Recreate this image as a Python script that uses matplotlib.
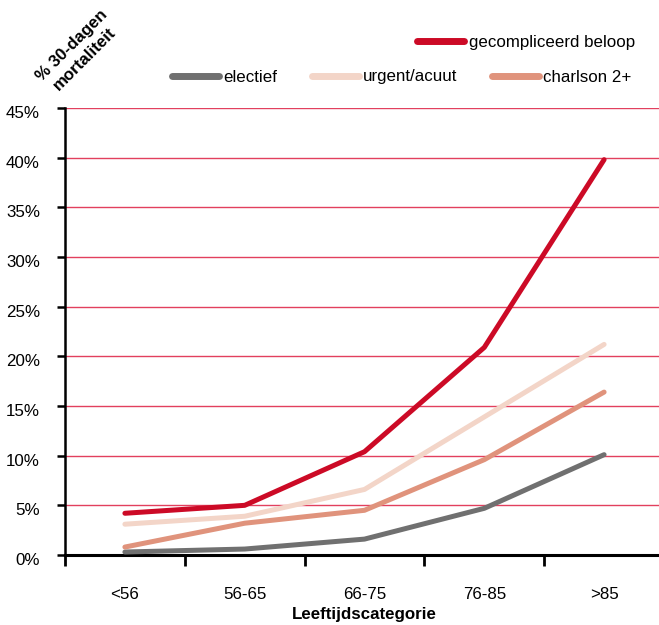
import matplotlib
matplotlib.use("Agg")
import matplotlib.pyplot as plt
import matplotlib.transforms as mtransforms
from matplotlib.ticker import FixedLocator, FuncFormatter

plt.rcParams['font.family'] = ['Liberation Sans', 'DejaVu Sans']

categories = ['<56', '56-65', '66-75', '76-85', '>85']
gecompliceerd = [4.2, 5.0, 10.4, 20.9, 39.8]
electief = [0.3, 0.6, 1.6, 4.7, 10.1]
urgent = [3.1, 3.9, 6.6, 13.9, 21.2]
charlson = [0.8, 3.2, 4.5, 9.6, 16.4]
y_ticks = [0, 5, 10, 15, 20, 25, 30, 35, 40, 45]

W, H = 659, 625
FS = 12.2
fig = plt.figure(figsize=(W / 100, H / 100), dpi=100)
ax = fig.add_axes([65 / W, 70 / H, 599 / W, 447 / H])

x = list(range(len(categories)))
c_red = '#CC0A26'
c_grey = '#707070'
c_light = '#F3D5C8'
c_salmon = '#E0937C'

lw = 3.6
l_el, = ax.plot(x, electief, color=c_grey, lw=lw, solid_capstyle='round', label='electief', zorder=3)
l_ur, = ax.plot(x, urgent, color=c_light, lw=lw, solid_capstyle='round', label='urgent/acuut', zorder=3)
l_ch, = ax.plot(x, charlson, color=c_salmon, lw=lw, solid_capstyle='round', label='charlson 2+', zorder=3)
l_gc, = ax.plot(x, gecompliceerd, color=c_red, lw=lw, solid_capstyle='round', label='gecompliceerd beloop', zorder=4)

ax.set_xlim(-0.5, 4.5)
ax.set_ylim(0, 45)

for v in y_ticks[1:]:
    ax.axhline(v, color='#E2405E', lw=1.0, zorder=1)

ax.yaxis.set_major_locator(FixedLocator(y_ticks))
ax.yaxis.set_major_formatter(FuncFormatter(lambda v, p: f'{int(v)}%'))
ax.tick_params(axis='y', direction='out', length=6, width=1.8, labelsize=FS, pad=12, colors='black')
shift = mtransforms.ScaledTranslation(0, -4 / 100, fig.dpi_scale_trans)
for lab in ax.get_yticklabels():
    lab.set_transform(lab.get_transform() + shift)

ax.set_xticks(x)
ax.set_xticklabels(categories)
ax.set_xticks([i - 0.5 for i in range(len(categories) + 1)], minor=True)
ax.tick_params(axis='x', which='major', length=0, labelsize=FS, pad=23)
ax.tick_params(axis='x', which='minor', direction='out', length=8, width=2)

for s in ['top', 'right']:
    ax.spines[s].set_visible(False)
ax.spines['left'].set_linewidth(1.8)
ax.spines['bottom'].set_linewidth(2.2)

ax.set_xlabel('Leeftijdscategorie', fontsize=FS, fontweight='bold', labelpad=4)

fig.text(78 / W, 1 - 52 / H, '% 30-dagen\nmortaliteit', rotation=45, rotation_mode='anchor',
         ha='center', va='center', multialignment='center', fontsize=FS, fontweight='bold',
         linespacing=1.3)

leg_kw = dict(frameon=False, fontsize=FS, handlelength=2.8, handletextpad=0.25,
              borderpad=0, borderaxespad=0, handleheight=0.7)
leg1 = fig.legend(handles=[l_gc], loc='center left',
                  bbox_to_anchor=(417 / W, 1 - 42 / H), **leg_kw)
for h in leg1.legend_handles:
    h.set_linewidth(5)
leg2 = fig.legend(handles=[l_el, l_ur, l_ch], loc='center left', ncol=3, columnspacing=2.0,
                  bbox_to_anchor=(172 / W, 1 - 77 / H), **leg_kw)
for h in leg2.legend_handles:
    h.set_linewidth(5)

fig.savefig('out.png', dpi=100)
